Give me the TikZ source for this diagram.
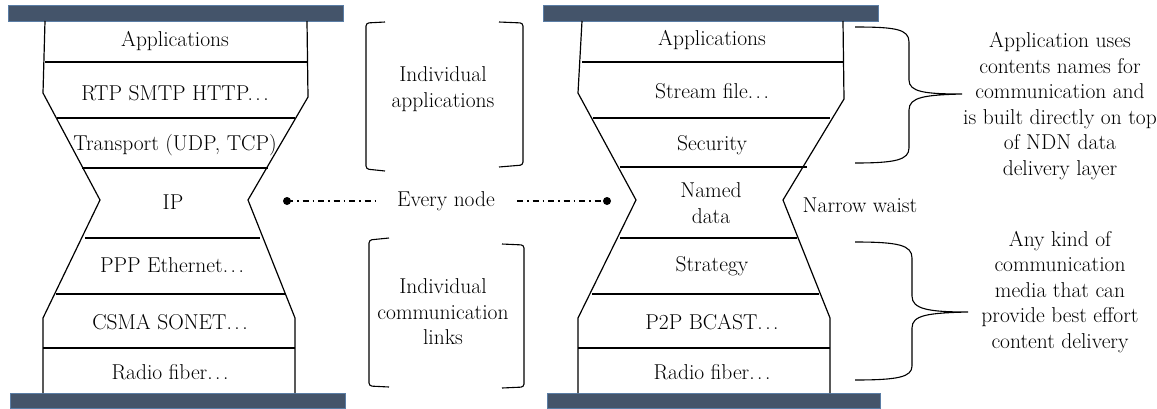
\documentclass[tikz,border=0pt]{standalone}
\usetikzlibrary{calc}
\definecolor{barfill}{RGB}{68,84,106}
\definecolor{baredge}{RGB}{90,125,165}
\newcommand{\dts}{.\kern2.5pt.\kern2.5pt.}
\begin{document}
\begin{tikzpicture}[x=1pt,y=-1pt,
  lay/.style={line width=1.2pt},
  sep/.style={line width=1.1pt},
  bar/.style={fill=barfill,draw=baredge,line width=0.8pt},
  lbl/.style={font=\fontsize{21.5}{25.5}\selectfont,align=center,inner sep=0pt},
  brk/.style={line width=1.1pt,rounded corners=3pt},
  dd/.style={line width=1.1pt,dash pattern=on 6pt off 4pt on 1.5pt off 4pt},
  dotc/.style={circle,fill=black,inner sep=0pt,minimum size=8pt}]
\useasboundingbox (0,0) rectangle (1157,408);
% ---------- left hourglass ----------
\draw[bar] (8,5) rectangle (343,21);
\draw[bar] (10,393) rectangle (345,408);
\draw[lay] (45,21) -- (43,93) -- (100,200) -- (43,318) -- (43,393);
\draw[lay] (307,21) -- (308,97) -- (248,200) -- (295,318) -- (295,393);
\draw[sep] (45,62) -- (307,62);
\draw[sep] (57,118) -- (295,118);
\draw[sep] (82,168) -- (268,168);
\draw[sep] (85,238) -- (260,238);
\draw[sep] (56,294) -- (285,294);
\draw[sep] (43,348) -- (295,348);
\node[lbl] (la) at (175,41) {Applications};
\node[lbl] (lr) at (175,93) {RTP SMTP HTTP\dts};
\node[lbl] (lt) at (175,145) {Transport (UDP, TCP)};
\node[lbl] (lip) at (173,202) {IP};
\node[lbl] (lp) at (172,265) {PPP Ethernet\dts};
\node[lbl] (lc) at (170,322) {CSMA SONET\dts};
\node[lbl] (lrf) at (170,372) {Radio fiber\dts};
% ---------- middle ----------
\draw[brk] (385,22) -- (366,23) -- (366,169) -- (385,171);
\draw[brk] (499,22) -- (523,23) -- (523,165) -- (499,167);
\node[lbl] (ia) at (443,89) {Individual\\applications};
\draw[brk] (389,238) -- (369,240) -- (369,386) -- (389,387);
\draw[brk] (502,244) -- (524,245) -- (524,387) -- (502,388);
\node[lbl] (ic) at (443,312) {Individual\\communication\\links};
\node[lbl] (en) at (446,201) {Every node};
\node[dotc] (d1) at (287,201) {};
\node[dotc] (d2) at (607,201) {};
\draw[dd] (d1.center) -- ($(en.west)+(-22,0)$);
\draw[dd] ($(en.east)+(22,0)$) -- (d2.center);
% ---------- right hourglass ----------
\draw[bar] (543,5) rectangle (878,21);
\draw[bar] (547,393) rectangle (880,408);
\draw[lay] (582,21) -- (578,93) -- (636,200) -- (578,318) -- (578,393);
\draw[lay] (843,21) -- (844,99) -- (783,200) -- (830,318) -- (830,393);
\draw[sep] (582,62) -- (843,62);
\draw[sep] (593,118) -- (830,118);
\draw[sep] (620,167) -- (807,167);
\draw[sep] (620,238) -- (797,238);
\draw[sep] (592,294) -- (819,294);
\draw[sep] (578,348) -- (830,348);
\node[lbl] (ra) at (712,40) {Applications};
\node[lbl] (rs) at (712,91) {Stream file\dts};
\node[lbl] (rsec) at (712,145) {Security};
\node[lbl] (rn) at (711,203) {Named\\data};
\node[lbl] (rst) at (712,266) {Strategy};
\node[lbl] (rp) at (712,322) {P2P BCAST\dts};
\node[lbl] (rrf) at (712,372) {Radio fiber\dts};
\node[lbl] (nw) at (860,205) {Narrow waist};
% ---------- braces ----------
\coordinate (b1) at (962,94);
\draw[line width=1.1pt] (855,27) .. controls (895,27) and (909,29) .. (909,42) -- (909,80)
  .. controls (909,92) and (925,94) .. (b1)
  .. controls (925,95) and (909,97) .. (909,110) -- (909,148)
  .. controls (909,160) and (895,163) .. (855,163);
\coordinate (b2) at (968,312);
\draw[line width=1.1pt] (855,242) .. controls (898,242) and (912,245) .. (912,258) -- (912,296)
  .. controls (912,309) and (928,312) .. (b2)
  .. controls (928,313) and (912,315) .. (912,328) -- (912,366)
  .. controls (912,377) and (898,380) .. (855,380);
\node[lbl] (t1) at (1060,106) {Application uses\\contents names for\\communication and\\is built directly on top\\of NDN data\\delivery layer};
\node[lbl] (t2) at (1060,292) {Any kind of\\communication\\media that can\\provide best effort\\content delivery};
\end{tikzpicture}
\end{document}
